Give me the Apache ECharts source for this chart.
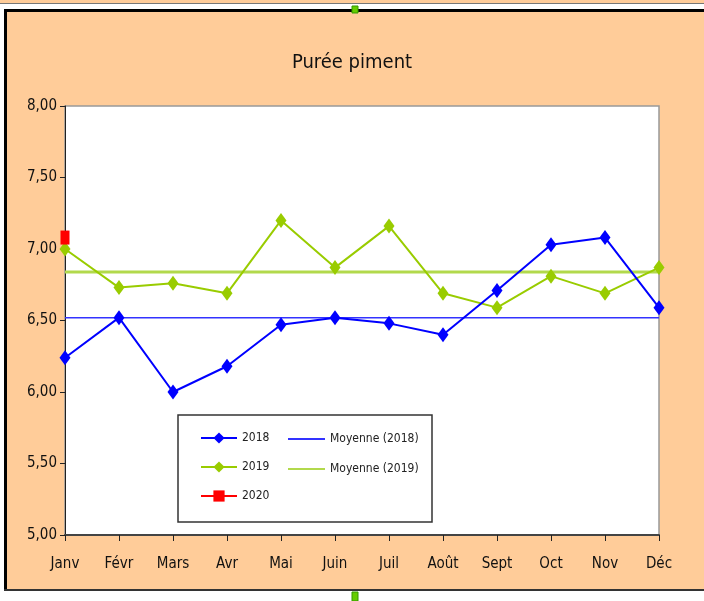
<!DOCTYPE html>
<html>
<head>
<meta charset="utf-8">
<script src="https://cdn.jsdelivr.net/npm/echarts@6/dist/echarts.min.js"></script>
<style>
html,body{margin:0;padding:0;background:#fff;overflow:hidden;}
#c{width:704px;height:601px;}
</style>
</head>
<body>
<div id="c"></div>
<script>
var months = ['Janv','Févr','Mars','Avr','Mai','Juin','Juil','Août','Sept','Oct','Nov','Déc'];
var values2018 = [6.24,6.52,6.00,6.18,6.47,6.52,6.48,6.40,6.71,7.03,7.08,6.59];
var values2019 = [7.00,6.73,6.76,6.69,7.20,6.87,7.16,6.69,6.59,6.81,6.69,6.87];
var values2020 = [7.08];
var mean2018 = [6.52,6.52,6.52,6.52,6.52,6.52,6.52,6.52,6.52,6.52,6.52,6.52];
var mean2019 = [6.84,6.84,6.84,6.84,6.84,6.84,6.84,6.84,6.84,6.84,6.84,6.84];
var yTicks = {min:5, max:8, interval:0.5};

// pick the narrowest available installed font
function pickFont(){
  var cands = ['Liberation Sans Narrow','DejaVu Sans Condensed','Liberation Sans'];
  var cv = document.createElement('canvas').getContext('2d');
  var s = 'Moyenne (2018) Purée piment';
  cv.font = '20px monospace'; var wm = cv.measureText(s).width;
  for (var i=0;i<cands.length;i++){
    cv.font = '20px "'+cands[i]+'", monospace'; var a = cv.measureText(s).width;
    cv.font = '20px "'+cands[i]+'", serif'; var b = cv.measureText(s).width;
    if (a === b && a !== wm) return '"'+cands[i]+'"';
  }
  return 'sans-serif';
}
var FONT = pickFont();
var chart = echarts.init(document.getElementById('c'));
chart.setOption({
  animation:false,
  backgroundColor:'#ffffff',
  textStyle:{fontFamily:FONT},
  title:{text:'Purée piment', left:'center', top:48,
    textStyle:{fontFamily:FONT, fontSize:20, fontWeight:'normal', color:'#111'}},
  graphic:[
    {type:'rect', z:-10, shape:{x:0,y:0,width:704,height:3}, style:{fill:'#FFCC99'}},
    {type:'rect', z:-10, shape:{x:0,y:3,width:704,height:1}, style:{fill:'#777'}},
    {type:'rect', z:-10, shape:{x:5,y:9,width:699,height:582}, style:{fill:'#FFCC99'}},
    {type:'rect', z:-9, shape:{x:4,y:9,width:700,height:3}, style:{fill:'#000'}},
    {type:'rect', z:-9, shape:{x:4,y:9,width:3,height:582}, style:{fill:'#000'}},
    {type:'rect', z:-10, shape:{x:0,y:592,width:704,height:9}, style:{fill:'#ffffff'}},
    {type:'rect', z:-9, shape:{x:4,y:589,width:700,height:2}, style:{fill:'#333'}},
    {type:'rect', z:-8, shape:{x:352,y:6,width:6,height:7}, style:{fill:'#66CC00', stroke:'#339900', lineWidth:1}},
    {type:'rect', z:-8, shape:{x:352,y:592,width:6,height:9}, style:{fill:'#66CC00', stroke:'#339900', lineWidth:1}},
    {type:'rect', z:3, shape:{x:178,y:415,width:254,height:107}, style:{fill:'#ffffff', stroke:'#333', lineWidth:1.5}}
  ],
  legend:[
    {orient:'vertical', left:195, top:427, itemWidth:36, itemHeight:14, itemGap:17,
      data:['2018','2019','2020'],
      textStyle:{fontFamily:FONT, fontSize:12, color:'#222'}},
    {orient:'vertical', left:283, top:427, itemWidth:37, itemHeight:2, itemGap:16,
      data:[{name:'Moyenne (2018)', icon:'rect'},{name:'Moyenne (2019)', icon:'rect'}],
      textStyle:{fontFamily:FONT, fontSize:12, color:'#222', lineHeight:14}}
  ],
  grid:{left:65, top:106, right:45, bottom:66, show:true, backgroundColor:'#ffffff', borderColor:'#999', borderWidth:1.5},
  xAxis:{type:'category', data:months, boundaryGap:false,
    axisLine:{lineStyle:{color:'#444', width:2}},
    axisTick:{show:true, length:6, inside:false, lineStyle:{color:'#222'}},
    axisLabel:{margin:22, fontFamily:FONT, fontSize:15, color:'#111'},
    splitLine:{show:false}},
  yAxis:{type:'value', min:yTicks.min, max:yTicks.max, interval:yTicks.interval,
    axisLine:{show:true, lineStyle:{color:'#222', width:1}},
    axisTick:{show:true, length:5, lineStyle:{color:'#222'}},
    axisLabel:{margin:8, fontFamily:FONT, fontSize:15, color:'#111',
      formatter:function(v){return v.toFixed(2).replace('.',',');}},
    splitLine:{show:false}},
  series:[
    {name:'2018', type:'line', data:values2018, symbol:'diamond', symbolSize:[11,15],
      itemStyle:{color:'#0000FF'}, lineStyle:{color:'#0000FF', width:2}, z:5},
    {name:'Moyenne (2018)', type:'line', data:mean2018, symbol:'none',
      itemStyle:{color:'#3333FF'}, lineStyle:{color:'#3333FF', width:1.5}, z:3},
    {name:'2019', type:'line', data:values2019, symbol:'diamond', symbolSize:[11,15],
      itemStyle:{color:'#99CC00'}, lineStyle:{color:'#99CC00', width:2}, z:4},
    {name:'Moyenne (2019)', type:'line', data:mean2019, symbol:'none',
      itemStyle:{color:'#B2D94C'}, lineStyle:{color:'#B2D94C', width:3}, z:3},
    {name:'2020', type:'line', data:values2020, symbol:'rect', symbolSize:[9,14],
      itemStyle:{color:'#FF0000'}, lineStyle:{color:'#FF0000', width:5}, z:6}
  ]
});
</script>
</body>
</html>
